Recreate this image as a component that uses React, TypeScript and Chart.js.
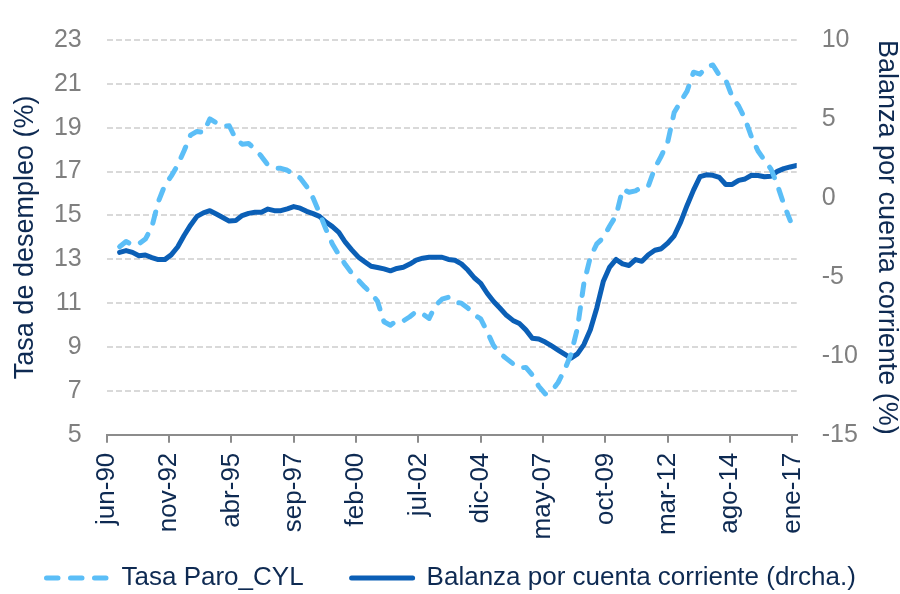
import React, { useEffect, useRef } from "react";
import { Chart, registerables } from "chart.js";

Chart.register(...registerables);

// Quarterly observations: the first one is dic-90 (6 months after jun-90), then one every 3 months
const seriesStartMonth = 6;
const seriesStepMonths = 3;

// Tasa de paro Castilla y León (%), left axis
const tasaParoCYL = [
  13.57, 13.81, 13.65, 13.7, 13.92, 14.47, 15.62, 16.37, 16.79, 17.29,
  17.95, 18.66, 18.83, 18.78, 19.4, 19.22, 19.07, 19.09, 18.49, 18.25,
  18.28, 18.03, 17.69, 17.3, 17.16, 17.15, 17.06, 16.87, 16.71, 16.32,
  15.8, 15.1, 14.37, 13.7, 13.2, 12.76, 12.37, 12.05, 11.74, 11.46,
  11.08, 10.15, 9.99, 10.21, 10.19, 10.38, 10.62, 10.51, 10.3, 10.9,
  11.18, 11.27, 11.04, 11.0, 10.78, 10.47, 10.28, 9.7, 9.06, 8.7,
  8.47, 8.24, 8.04, 8.07, 7.72, 7.21, 6.86, 6.99, 7.38, 7.95,
  8.67, 9.86, 11.9, 13.1, 13.7, 13.98, 14.52, 15.0, 16.19, 16.06,
  16.12, 16.29, 16.35, 17.16, 17.71, 18.35, 19.69, 20.19, 20.67, 21.53,
  21.44, 21.78, 21.86, 21.39, 21.18, 20.41, 19.99, 19.39, 18.57, 17.94,
  17.52, 17.12, 16.39, 15.51, 14.76,
];

// Balanza por cuenta corriente (% PIB), right axis
const balanzaCuentaCorriente = [
  -3.45, -3.34, -3.45, -3.66, -3.62, -3.78, -3.91, -3.91, -3.61, -3.11,
  -2.38, -1.73, -1.17, -0.95, -0.81, -1.02, -1.24, -1.47, -1.44, -1.12,
  -0.98, -0.91, -0.91, -0.71, -0.81, -0.81, -0.69, -0.55, -0.65, -0.85,
  -1.0, -1.17, -1.53, -1.82, -2.18, -2.81, -3.29, -3.74, -4.04, -4.33,
  -4.41, -4.5, -4.62, -4.47, -4.39, -4.19, -3.94, -3.82, -3.76, -3.76,
  -3.76, -3.9, -3.95, -4.18, -4.57, -5.06, -5.41, -6.04, -6.56, -6.99,
  -7.44, -7.76, -7.96, -8.36, -8.89, -8.94, -9.13, -9.38, -9.64, -9.9,
  -10.15, -9.88, -9.29, -8.35, -6.97, -5.3, -4.38, -3.9, -4.18, -4.28,
  -3.91, -4.02, -3.6, -3.32, -3.22, -2.87, -2.4, -1.54, -0.48, 0.49,
  1.34, 1.46, 1.43, 1.3, 0.85, 0.85, 1.11, 1.2, 1.43, 1.42,
  1.34, 1.37, 1.68, 1.85, 1.96, 2.05,
];

// x axis: months counted from jun-90
const xTickLabels = [
  "jun-90", "nov-92", "abr-95", "sep-97", "feb-00", "jul-02",
  "dic-04", "may-07", "oct-09", "mar-12", "ago-14", "ene-17",
];
const xTickMonths = [0, 29, 58, 87, 116, 145, 174, 203, 232, 261, 290, 319];
const xAxisMinMonth = 0;
const xAxisMaxMonth = 321;

const leftAxisRange = [5, 23];
const leftAxisStep = 2;
const rightAxisRange = [-15, 10];
const rightAxisStep = 5;

const seriesNames = ["Tasa Paro_CYL", "Balanza por cuenta corriente (drcha.)"];
const leftAxisTitle = "Tasa de desempleo (%)";
const rightAxisTitle = "Balanza por cuenta corriente (%)";

const FONT = "'Liberation Sans', Arial, Helvetica, sans-serif";
const NAVY = "#0E2A52";
const GRAY = "#7F7F7F";
const LIGHT_BLUE = "#5BBEF7";
const DARK_BLUE = "#0B5FB6";

// legend layout (drawn by a small plugin that reads the datasets' own styles)
const LEGEND_Y = 578;
const LEGEND_START_X = 46.5;
const LEGEND_SAMPLE_LEN = 61;
const LEGEND_TEXT_GAP = 14;
const LEGEND_ITEM_GAP = 48;
const LEGEND_FONT_SIZE = 26;

const toPoints = (values: number[]) =>
  values.map((v, i) => ({ x: seriesStartMonth + i * seriesStepMonths, y: v }));

const bottomLegendPlugin = {
  id: "bottomLegend",
  afterDraw(chart: any) {
    const ctx = chart.ctx as CanvasRenderingContext2D;
    ctx.save();
    ctx.font = `${LEGEND_FONT_SIZE}px ${FONT}`;
    ctx.textBaseline = "middle";
    ctx.textAlign = "left";
    let x = LEGEND_START_X;
    chart.data.datasets.forEach((ds: any) => {
      ctx.save();
      ctx.strokeStyle = ds.borderColor;
      ctx.lineWidth = ds.borderWidth;
      ctx.lineCap = ds.borderCapStyle || "butt";
      ctx.setLineDash(ds.borderDash || []);
      ctx.beginPath();
      ctx.moveTo(x, LEGEND_Y);
      ctx.lineTo(x + LEGEND_SAMPLE_LEN, LEGEND_Y);
      ctx.stroke();
      ctx.restore();
      x += LEGEND_SAMPLE_LEN + LEGEND_TEXT_GAP;
      ctx.fillStyle = NAVY;
      ctx.fillText(ds.label, x, LEGEND_Y);
      x += ctx.measureText(ds.label).width + LEGEND_ITEM_GAP;
    });
    ctx.restore();
  },
};

export default function App() {
  const canvasRef = useRef<HTMLCanvasElement | null>(null);

  useEffect(() => {
    const canvas = canvasRef.current;
    if (!canvas) return;
    const chart = new Chart(canvas, {
      type: "line",
      data: {
        datasets: [
          {
            label: seriesNames[0],
            data: toPoints(tasaParoCYL),
            yAxisID: "y",
            borderColor: LIGHT_BLUE,
            backgroundColor: LIGHT_BLUE,
            borderWidth: 5,
            borderDash: [11.5, 12.5],
            borderCapStyle: "round",
            borderJoinStyle: "round",
            pointRadius: 0,
            tension: 0,
            fill: false,
          },
          {
            label: seriesNames[1],
            data: toPoints(balanzaCuentaCorriente),
            yAxisID: "y1",
            borderColor: DARK_BLUE,
            backgroundColor: DARK_BLUE,
            borderWidth: 5,
            borderCapStyle: "round",
            borderJoinStyle: "round",
            pointRadius: 0,
            tension: 0,
            fill: false,
          },
        ],
      },
      options: {
        animation: false,
        responsive: false,
        maintainAspectRatio: false,
        events: [],
        layout: { padding: { top: 20, left: 0, right: 0, bottom: 49.3 } },
        plugins: {
          tooltip: { enabled: false },
          legend: { display: false },
        },
        scales: {
          x: {
            type: "linear",
            position: "bottom",
            min: xAxisMinMonth,
            max: xAxisMaxMonth,
            afterBuildTicks: (scale: any) => {
              scale.ticks = xTickMonths.map((m) => ({ value: m }));
            },
            afterFit: (scale: any) => {
              scale.height = 110;
            },
            ticks: {
              autoSkip: false,
              maxRotation: 90,
              minRotation: 90,
              padding: 10,
              color: NAVY,
              font: { family: FONT, size: 26 },
              callback: (value: any) => {
                const idx = xTickMonths.indexOf(Number(value));
                return idx >= 0 ? xTickLabels[idx] : "";
              },
            },
            grid: {
              display: true,
              drawOnChartArea: false,
              drawTicks: true,
              tickLength: 8,
              color: "#8C8C8C",
              lineWidth: 2,
            },
            border: { display: true, color: "#8C8C8C", width: 2 },
          },
          y: {
            type: "linear",
            position: "left",
            min: leftAxisRange[0],
            max: leftAxisRange[1],
            afterFit: (scale: any) => {
              scale.width = 106.7;
            },
            ticks: {
              stepSize: leftAxisStep,
              padding: 25,
              color: GRAY,
              font: { family: FONT, size: 25 },
            },
            grid: {
              display: true,
              drawOnChartArea: true,
              drawTicks: false,
              color: "#D9D9D9",
              lineWidth: 2,
            },
            border: { display: false, dash: [6, 3] },
            title: {
              display: true,
              text: leftAxisTitle,
              color: NAVY,
              font: { family: FONT, size: 27, lineHeight: 1 },
              padding: { top: 12, bottom: 0 },
            },
          },
          y1: {
            type: "linear",
            position: "right",
            min: rightAxisRange[0],
            max: rightAxisRange[1],
            afterFit: (scale: any) => {
              scale.width = 103.3;
            },
            ticks: {
              stepSize: rightAxisStep,
              padding: 25,
              color: GRAY,
              font: { family: FONT, size: 25 },
            },
            grid: { display: true, drawOnChartArea: false, drawTicks: false },
            border: { display: false },
            title: {
              display: true,
              text: rightAxisTitle,
              color: NAVY,
              font: { family: FONT, size: 27, lineHeight: 1 },
              padding: { top: 0, bottom: 0 },
            },
          },
        },
      },
      plugins: [bottomLegendPlugin],
    } as any);
    return () => chart.destroy();
  }, []);

  return (
    <div
      style={{
        position: "fixed",
        left: 0,
        top: 0,
        width: 900,
        height: 594,
        background: "#FFFFFF",
      }}
    >
      <canvas ref={canvasRef} width={900} height={594} style={{ width: 900, height: 594, display: "block" }} />
    </div>
  );
}
